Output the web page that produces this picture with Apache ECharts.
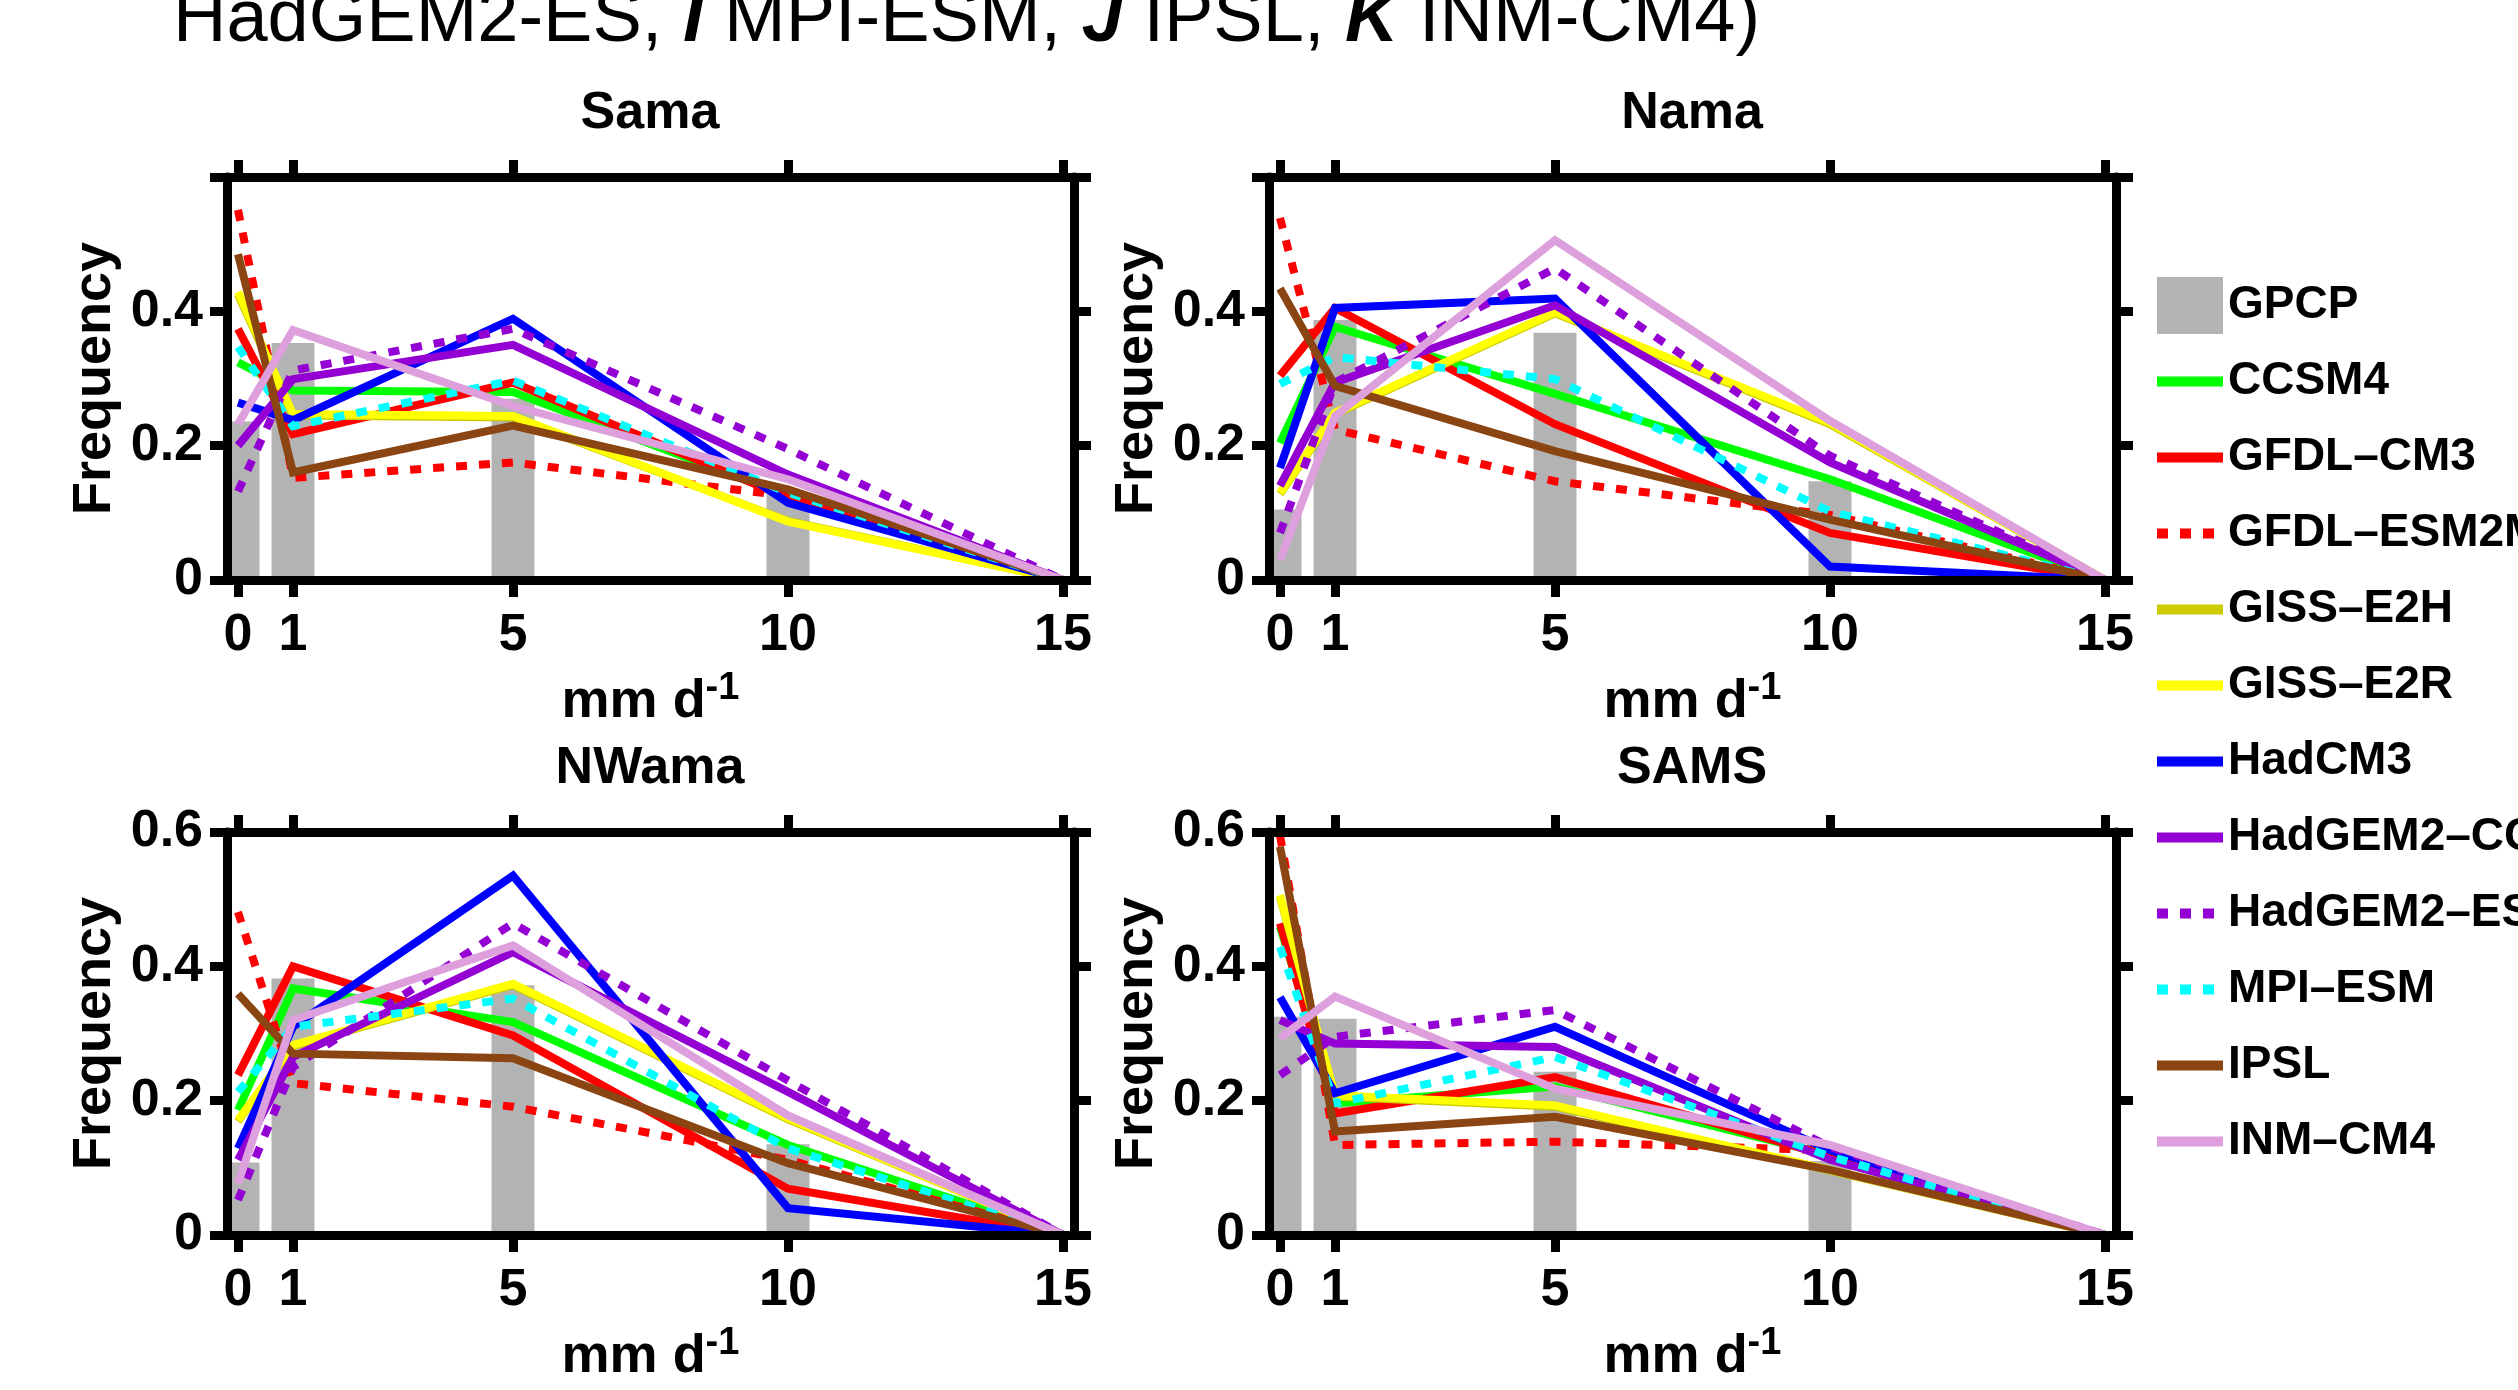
<!DOCTYPE html>
<html>
<head>
<meta charset="utf-8">
<script src="https://cdn.jsdelivr.net/npm/echarts@6.0.0/dist/echarts.min.js"></script>
<style>
  html, body { margin: 0; padding: 0; background: #fff; }
  #chart { width: 2518px; height: 1390px; }
</style>
</head>
<body>
<div id="chart"></div>
<script>
// rain-rate bins (mm/d) and tick values
const bins = [0, 1, 5, 10, 15];
const gpcpBins = [0, 1, 5, 10];
const xTicks = [0, 1, 5, 10, 15];
const yTicks = [0, 0.2, 0.4, 0.6];
const yLabelsTop = [0, 0.2, 0.4];
const yLabelsBottom = [0, 0.2, 0.4, 0.6];
const regions = ['Sama', 'Nama', 'NWama', 'SAMS'];

// frequencies, one row per region: Sama, Nama, NWama, SAMS
const GPCP = [
  [0.236, 0.353, 0.27, 0.13],
  [0.105, 0.387, 0.368, 0.147],
  [0.108, 0.382, 0.372, 0.135],
  [0.325, 0.322, 0.243, 0.11]
];
const CCSM4 = [
  [0.324, 0.282, 0.280, 0.125, 0],
  [0.204, 0.377, 0.277, 0.150, 0],
  [0.186, 0.367, 0.317, 0.134, 0],
  [0.459, 0.196, 0.221, 0.119, 0]
];
const GFDL_CM3 = [
  [0.374, 0.217, 0.294, 0.122, 0],
  [0.304, 0.405, 0.232, 0.070, 0],
  [0.238, 0.400, 0.297, 0.069, 0],
  [0.464, 0.181, 0.235, 0.117, 0]
];
const GFDL_ESM2M = [
  [0.551, 0.152, 0.175, 0.125, 0],
  [0.539, 0.224, 0.147, 0.097, 0],
  [0.481, 0.226, 0.191, 0.112, 0],
  [0.595, 0.134, 0.139, 0.126, 0]
];
const GISS_E2H = [
  [0.425, 0.245, 0.242, 0.088, 0],
  [0.128, 0.247, 0.397, 0.232, 0],
  [0.169, 0.281, 0.372, 0.172, 0],
  [0.503, 0.206, 0.191, 0.096, 0]
];
const GISS_E2R = [
  [0.429, 0.247, 0.244, 0.087, 0],
  [0.130, 0.249, 0.399, 0.234, 0],
  [0.171, 0.283, 0.374, 0.174, 0],
  [0.506, 0.208, 0.193, 0.097, 0]
];
const HadCM3 = [
  [0.264, 0.238, 0.389, 0.115, 0],
  [0.167, 0.405, 0.419, 0.020, 0],
  [0.129, 0.310, 0.535, 0.040, 0],
  [0.354, 0.211, 0.310, 0.126, 0]
];
const HadGEM2_CC = [
  [0.200, 0.299, 0.350, 0.157, 0],
  [0.140, 0.294, 0.409, 0.175, 0],
  [0.112, 0.265, 0.421, 0.213, 0],
  [0.320, 0.285, 0.280, 0.112, 0]
];
const HadGEM2_ES = [
  [0.132, 0.312, 0.374, 0.195, 0],
  [0.070, 0.294, 0.464, 0.185, 0],
  [0.052, 0.250, 0.464, 0.230, 0],
  [0.238, 0.295, 0.335, 0.131, 0]
];
const MPI_ESM = [
  [0.347, 0.229, 0.297, 0.130, 0],
  [0.292, 0.332, 0.299, 0.102, 0],
  [0.213, 0.310, 0.352, 0.129, 0],
  [0.429, 0.196, 0.265, 0.117, 0]
];
const IPSL = [
  [0.485, 0.160, 0.230, 0.135, 0],
  [0.434, 0.289, 0.192, 0.090, 0],
  [0.359, 0.270, 0.263, 0.107, 0],
  [0.578, 0.154, 0.176, 0.097, 0]
];
const INM_CM4 = [
  [0.232, 0.372, 0.259, 0.150, 0],
  [0.030, 0.244, 0.506, 0.237, 0],
  [0.077, 0.320, 0.431, 0.178, 0],
  [0.293, 0.355, 0.218, 0.134, 0]
];

const dotted = [11, 12];
const models = [
  { name: 'CCSM4', values: CCSM4, color: '#00ff00', type: 'solid' },
  { name: 'GFDL–CM3', values: GFDL_CM3, color: '#ff0000', type: 'solid' },
  { name: 'GFDL–ESM2M', values: GFDL_ESM2M, color: '#ff0000', type: dotted },
  { name: 'GISS–E2H', values: GISS_E2H, color: '#cccc00', type: 'solid' },
  { name: 'GISS–E2R', values: GISS_E2R, color: '#ffff00', type: 'solid' },
  { name: 'HadCM3', values: HadCM3, color: '#0000ff', type: 'solid' },
  { name: 'HadGEM2–CC', values: HadGEM2_CC, color: '#9400d3', type: 'solid' },
  { name: 'HadGEM2–ES', values: HadGEM2_ES, color: '#9400d3', type: dotted },
  { name: 'MPI–ESM', values: MPI_ESM, color: '#00ffff', type: dotted },
  { name: 'IPSL', values: IPSL, color: '#8b4513', type: 'solid' },
  { name: 'INM–CM4', values: INM_CM4, color: '#dda0dd', type: 'solid' }
];

const font = '"Liberation Sans", Arial, Helvetica, sans-serif';
const gridPos = [
  { left: 227, top: 177 },
  { left: 1269, top: 177 },
  { left: 227, top: 832 },
  { left: 1269, top: 832 }
];
const frame = { color: '#000', width: 9 };
const barPx = 43;

const chart = echarts.init(document.getElementById('chart'));

const grids = gridPos.map(p => ({ left: p.left, top: p.top, width: 847, height: 403, containLabel: false }));

const xAxes = [];
const yAxes = [];
gridPos.forEach((p, g) => {
  const xCommon = {
    type: 'value', gridIndex: g, min: -0.2, max: 15.2, z: 5,
    axisLine: { show: true, onZero: false, lineStyle: frame },
    axisTick: { show: true, inside: false, length: 17, customValues: xTicks, lineStyle: frame },
    splitLine: { show: false }
  };
  xAxes.push(Object.assign({}, xCommon, {
    position: 'bottom',
    axisLabel: { customValues: xTicks, margin: 30, fontSize: 52, fontWeight: 'bold', color: '#000', fontFamily: font },
    name: '{a|mm d}{s|-1}',
    nameLocation: 'middle',
    nameGap: 90,
    nameTextStyle: {
      rich: {
        a: { fontSize: 54, fontWeight: 'bold', color: '#000', fontFamily: font, lineHeight: 64 },
        s: { fontSize: 38, fontWeight: 'bold', color: '#000', fontFamily: font, lineHeight: 28, verticalAlign: 'top' }
      }
    }
  }));
  xAxes.push(Object.assign({}, xCommon, { position: 'top', axisLabel: { show: false } }));

  const yCommon = {
    type: 'value', gridIndex: g, min: 0, max: 0.6, z: 5,
    axisLine: { show: true, onZero: false, lineStyle: frame },
    axisTick: { show: true, inside: false, length: 17, customValues: yTicks, lineStyle: frame },
    splitLine: { show: false }
  };
  yAxes.push(Object.assign({}, yCommon, {
    position: 'left',
    axisLabel: { customValues: g < 2 ? yLabelsTop : yLabelsBottom, margin: 24, fontSize: 52, fontWeight: 'bold', color: '#000', fontFamily: font },
    name: 'Frequency',
    nameLocation: 'middle',
    nameRotate: 90,
    nameGap: 105,
    nameTextStyle: { fontSize: 54, fontWeight: 'bold', color: '#000', fontFamily: font }
  }));
  yAxes.push(Object.assign({}, yCommon, { position: 'right', axisLabel: { show: false } }));
});

// GPCP bars, clipped to the plot frame
function renderBar(params, api) {
  const top = api.coord([api.value(0), api.value(1)]);
  const base = api.coord([api.value(0), 0]);
  const cs = params.coordSys;
  const rect = echarts.graphic.clipRectByRect(
    { x: top[0] - barPx / 2, y: top[1], width: barPx, height: base[1] - top[1] },
    { x: cs.x, y: cs.y, width: cs.width, height: cs.height }
  );
  return rect && { type: 'rect', shape: rect, style: api.style() };
}

const series = [];
regions.forEach((r, g) => {
  series.push({
    type: 'custom', name: 'GPCP', xAxisIndex: 2 * g, yAxisIndex: 2 * g,
    silent: true, clip: true,
    renderItem: renderBar,
    encode: { x: 0, y: 1 },
    itemStyle: { color: '#b3b3b3' },
    data: gpcpBins.map((x, i) => [x, GPCP[g][i]])
  });
  models.forEach(m => {
    series.push({
      type: 'line', name: m.name, xAxisIndex: 2 * g, yAxisIndex: 2 * g,
      symbol: 'none', silent: true, clip: true,
      itemStyle: { color: m.color },
      lineStyle: { color: m.color, width: 8, type: m.type, join: 'miter', miterLimit: 4 },
      data: bins.map((x, i) => [x, m.values[g][i]])
    });
  });
});

const titleCenters = [[650, 114], [1692, 114], [650, 769], [1692, 769]];
const graphics = regions.map((r, g) => ({
  type: 'text',
  x: titleCenters[g][0],
  y: titleCenters[g][1],
  style: {
    text: r, fill: '#000',
    font: 'bold 52px ' + font,
    align: 'center', verticalAlign: 'middle',
    textAlign: 'center', textVerticalAlign: 'middle'
  }
}));
graphics.push({
  type: 'text',
  x: 173,
  y: 21,
  style: {
    text: '{n|HadGEM2-ES, }{b|I}{n| MPI-ESM, }{b|J}{n| IPSL, }{b|K}{n| INM-CM4)}',
    verticalAlign: 'middle', textVerticalAlign: 'middle',
    rich: {
      n: { fontSize: 74, fontFamily: font, fill: '#000', color: '#000' },
      b: { fontSize: 74, fontFamily: font, fontWeight: 'bold', fontStyle: 'italic', fill: '#000', color: '#000' }
    }
  }
});

const legendData = [{ name: 'GPCP', icon: 'rect' }].concat(models.map(m => ({
  name: m.name,
  itemStyle: { opacity: 0 }
})));

const option = {
  animation: false,
  backgroundColor: '#fff',
  grid: grids,
  xAxis: xAxes,
  yAxis: yAxes,
  legend: {
    orient: 'vertical',
    left: 2152,
    top: 277,
    padding: 0,
    itemWidth: 66,
    itemHeight: 57,
    itemGap: 19,
    selectedMode: false,
    lineStyle: { width: 10 },
    textStyle: { fontSize: 46, lineHeight: 57, fontWeight: 'bold', color: '#000', fontFamily: font },
    data: legendData
  },
  graphic: graphics,
  series: series
};

chart.setOption(option);
</script>
</body>
</html>
